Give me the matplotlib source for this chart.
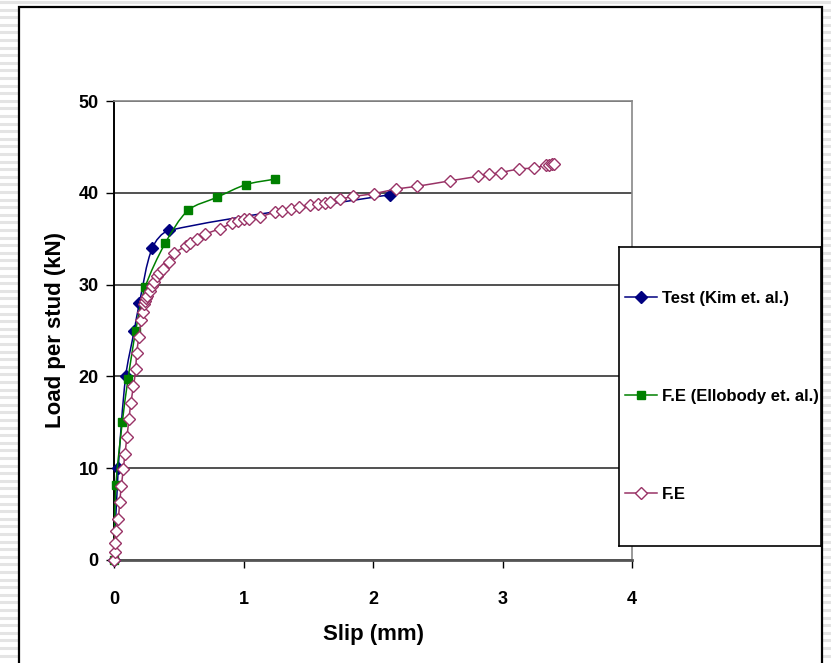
import numpy as np
import matplotlib.pyplot as plt
from matplotlib.path import Path
from matplotlib.patches import PathPatch, Rectangle
from matplotlib.lines import Line2D

plt.rcParams['font.family'] = ['Liberation Sans', 'DejaVu Sans']
plt.rcParams['font.weight'] = 'bold'

# Test results (Kim et. al.)
test_slip = [0.0, 0.033, 0.09, 0.155, 0.196, 0.296, 0.425, 2.135]
test_load = [0.0, 10.0, 20.0, 24.9, 28.0, 34.0, 35.9, 39.8]

# F.E results (Ellobody et. al.)
ell_slip = [0.0, 0.015, 0.064, 0.108, 0.168, 0.24, 0.395, 0.573, 0.794, 1.02, 1.246]
ell_load = [0.0, 8.2, 15.0, 19.7, 25.0, 29.7, 34.5, 38.1, 39.5, 40.9, 41.5]

# present F.E model
fe_slip = [0.0, 0.005, 0.005, 0.015, 0.033, 0.044, 0.057, 0.072, 0.085, 0.10,
           0.116, 0.13, 0.15, 0.168, 0.175, 0.193, 0.209, 0.222, 0.235, 0.24,
           0.247, 0.257, 0.275, 0.291, 0.309, 0.33, 0.35, 0.376, 0.422, 0.464,
           0.557, 0.588, 0.64, 0.704, 0.82, 0.913, 0.957, 1.0, 1.045, 1.13,
           1.245, 1.30, 1.367, 1.43, 1.516, 1.573, 1.632, 1.666, 1.748, 1.846,
           2.006, 2.174, 2.336, 2.592, 2.814, 2.896, 2.986, 3.128, 3.244, 3.335,
           3.36, 3.38, 3.40]
fe_load = [0.0, 0.9, 1.8, 3.2, 4.5, 6.3, 8.1, 9.9, 11.6, 13.4,
           15.4, 17.1, 18.9, 20.8, 22.6, 24.3, 26.1, 27.0, 27.9, 28.2,
           28.5, 28.8, 29.3, 29.8, 30.3, 30.9, 31.3, 31.7, 32.5, 33.4,
           34.2, 34.5, 35.0, 35.5, 36.1, 36.7, 36.9, 37.1, 37.2, 37.4,
           37.9, 38.0, 38.2, 38.4, 38.7, 38.8, 38.9, 39.0, 39.3, 39.6,
           39.9, 40.4, 40.7, 41.3, 41.8, 42.0, 42.2, 42.6, 42.7, 43.0,
           43.0, 43.1, 43.1]

x_ticks = [0, 1, 2, 3, 4]
y_ticks = [0, 10, 20, 30, 40, 50]

W, H = 831.0, 663.0
AX_L, AX_R, AX_T, AX_B = 114, 632, 101, 560
XMAX, YMAX = 4.0, 50.0
SX = (AX_R - AX_L) / XMAX
SY = (AX_B - AX_T) / YMAX


def smooth_path(xs, ys, k=0.3):
    # smoothed curve through the points (bezier segments), tangents worked out
    # in screen proportions so short and long segments behave alike
    q = np.column_stack([np.asarray(xs) * SX, np.asarray(ys) * SY])
    n = len(q)
    tang = []
    for i in range(n):
        a = q[max(i - 1, 0)]
        b = q[min(i + 1, n - 1)]
        d = b - a
        nrm = np.hypot(*d)
        tang.append(d / nrm if nrm > 0 else np.zeros(2))
    verts = [q[0]]
    codes = [Path.MOVETO]
    for i in range(n - 1):
        L = np.hypot(*(q[i + 1] - q[i]))
        c1 = q[i] + tang[i] * L * k
        c2 = q[i + 1] - tang[i + 1] * L * k
        verts += [c1, c2, q[i + 1]]
        codes += [Path.CURVE4] * 3
    verts = np.array(verts) / [SX, SY]
    return Path(verts, codes)


fig = plt.figure(figsize=(8.31, 6.63), dpi=100)

# striped background outside the slide frame
for yp in np.arange(2, H, 7.6):
    fig.add_artist(Line2D([0, 18 / W], [1 - yp / H] * 2, color='#e4e4e4', lw=2.2, zorder=-5))
    fig.add_artist(Line2D([824 / W, 1], [1 - yp / H] * 2, color='#e4e4e4', lw=2.2, zorder=-5))
fig.add_artist(Line2D([0, 1], [1 - 2 / H] * 2, color='#e4e4e4', lw=2.2, zorder=-5))
fig.add_artist(Rectangle((19 / W, -0.05), (822 - 19) / W, 1.05 - 7 / H,
                         transform=fig.transFigure, facecolor='white',
                         edgecolor='black', lw=1.6, zorder=-4))

ax = fig.add_axes([AX_L / W, 1 - AX_B / H, (AX_R - AX_L) / W, (AX_B - AX_T) / H])
ax.set_facecolor('white')

series = [
    (test_slip, test_load, '#000080', dict(marker='D', markersize=6.2, markerfacecolor='#000080',
                                            markeredgecolor='#000080'), 'Test (Kim et. al.)'),
    (ell_slip, ell_load, '#008000', dict(marker='s', markersize=6, markerfacecolor='#008000',
                                          markeredgecolor='#008000'), 'F.E (Ellobody et. al.)'),
    (fe_slip, fe_load, '#993366', dict(marker='D', markersize=6.2, markerfacecolor='white',
                                        markeredgecolor='#993366', markeredgewidth=1.0), 'F.E'),
]

handles = []
for i, (xs, ys, col, mk, lab) in enumerate(series):
    ax.add_patch(PathPatch(smooth_path(xs, ys), fill=False, edgecolor=col, lw=1.1,
                           zorder=3 + i, clip_on=False))
    ax.plot(xs, ys, linestyle='none', zorder=3 + i, clip_on=False, **mk)
    handles.append(Line2D([0], [0], color=col, lw=1.1, label=lab, **mk))

ax.set_xlim(0, XMAX)
ax.set_ylim(0, YMAX)
ax.set_xticks(x_ticks)
ax.set_yticks(y_ticks)
ax.tick_params(axis='x', direction='out', length=6, width=1, pad=16, labelsize=13)
ax.tick_params(axis='y', direction='out', length=6, width=1, pad=5, labelsize=13)
ax.grid(axis='y', color='#222222', lw=1.1)
ax.set_axisbelow(True)
for s in ['top', 'right']:
    ax.spines[s].set_color('#888888')
    ax.spines[s].set_linewidth(1.2)
ax.spines['left'].set_color('black')
ax.spines['left'].set_linewidth(1.4)
ax.spines['bottom'].set_color('#555555')
ax.spines['bottom'].set_linewidth(2.0)

ax.set_xlabel('Slip (mm)', fontsize=16, fontweight='bold', labelpad=12)
ax.set_ylabel('Load per stud (kN)', fontsize=16, fontweight='bold', labelpad=9)

# legend panel
lax = fig.add_axes([619 / W, 1 - 546 / H, (821 - 619) / W, (546 - 247) / H], zorder=10)
lax.set_facecolor('white')
lax.set_xticks([])
lax.set_yticks([])
for s in lax.spines.values():
    s.set_color('black')
    s.set_linewidth(1.2)
lax.legend(handles=handles, loc='center left', bbox_to_anchor=(6 / 202, 0.5),
           frameon=False, handlelength=1.9, handletextpad=0.3, labelspacing=5.0,
           borderaxespad=0.0, borderpad=0.0, prop={'weight': 'bold', 'size': 12})

fig.savefig('out.png', dpi=100)
